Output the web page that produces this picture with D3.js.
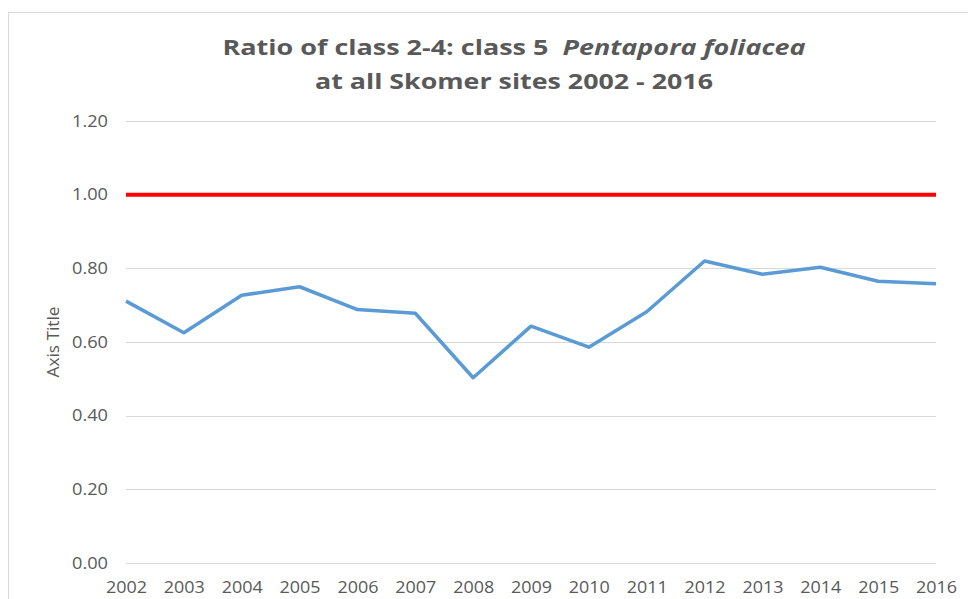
<!DOCTYPE html>
<html>
<head>
<meta charset="utf-8">
<script src="https://cdn.jsdelivr.net/npm/d3@7"></script>
<style>
  body { margin: 0; background: #fff; }
  svg { display: block; }
</style>
</head>
<body>
<div id="chart"></div>
<script>
const years = ["2002", "2003", "2004", "2005", "2006", "2007", "2008", "2009",
               "2010", "2011", "2012", "2013", "2014", "2015", "2016"];
const ratio = [0.711, 0.625, 0.727, 0.750, 0.688, 0.678, 0.503, 0.643,
               0.586, 0.682, 0.820, 0.784, 0.803, 0.765, 0.758];
const reference = [1, 1, 1, 1, 1, 1, 1, 1, 1, 1, 1, 1, 1, 1, 1];
const yTicks = [0, 0.2, 0.4, 0.6, 0.8, 1.0, 1.2];

const W = 968, H = 599;
const margin = {top: 121, right: 32, bottom: 36, left: 126};
const width = W - margin.left - margin.right;
const height = H - margin.top - margin.bottom;
const grey = "#595959";
const font = "'Open Sans', sans-serif";

const root = d3.select("#chart")
    .append("svg")
    .attr("width", W)
    .attr("height", H);

// chart frame
root.append("rect")
    .attr("x", 8.5)
    .attr("y", 12.5)
    .attr("width", W + 20)
    .attr("height", H)
    .attr("fill", "none")
    .attr("stroke", "#d9d9d9");

const svg = root.append("g")
    .attr("transform", `translate(${margin.left},${margin.top})`);

const x = d3.scalePoint().domain(years).range([0, width]);
const y = d3.scaleLinear().domain([0, 1.2]).range([height, 0]);

// gridlines
svg.append("g")
    .selectAll("line")
    .data(yTicks)
    .join("line")
    .attr("x1", 0)
    .attr("x2", width)
    .attr("y1", d => Math.round(y(d)) + 0.5)
    .attr("y2", d => Math.round(y(d)) + 0.5)
    .attr("stroke", "#d9d9d9")
    .attr("stroke-width", 1);

// y axis labels (the original is stretched sideways, so widths are fixed)
const yAxis = svg.append("g")
    .call(d3.axisLeft(y).tickValues(yTicks).tickFormat(d3.format(".2f")).tickSize(0).tickPadding(18));
yAxis.select(".domain").remove();
yAxis.selectAll("text")
    .attr("fill", grey)
    .attr("textLength", 36)
    .attr("lengthAdjust", "spacingAndGlyphs")
    .style("font-family", font)
    .style("font-size", "16.5px");

// x axis labels
const xAxis = svg.append("g")
    .attr("transform", `translate(0,${height})`)
    .call(d3.axisBottom(x).tickSize(0).tickPadding(18));
xAxis.select(".domain").remove();
xAxis.selectAll("text")
    .attr("fill", grey)
    .attr("textLength", 41)
    .attr("lengthAdjust", "spacingAndGlyphs")
    .style("font-family", font)
    .style("font-size", "17px");

const line = d3.line()
    .x((d, i) => x(years[i]))
    .y(d => y(d));

svg.append("path")
    .datum(reference)
    .attr("fill", "none")
    .attr("stroke", "#ff0000")
    .attr("stroke-width", 4)
    .attr("d", line);

svg.append("path")
    .datum(ratio)
    .attr("fill", "none")
    .attr("stroke", "#5b9bd5")
    .attr("stroke-width", 3.5)
    .attr("stroke-linejoin", "round")
    .attr("d", line);

// title
const title = root.append("text")
    .attr("x", 514)
    .attr("y", 55)
    .attr("text-anchor", "middle")
    .attr("fill", grey)
    .attr("textLength", 583)
    .attr("lengthAdjust", "spacingAndGlyphs")
    .style("font-family", font)
    .style("font-size", "21.5px")
    .style("font-weight", "bold");
title.append("tspan").text("Ratio of class 2-4: class 5\u00a0\u00a0");
title.append("tspan").style("font-style", "italic").text("Pentapora foliacea");

root.append("text")
    .attr("x", 514)
    .attr("y", 89)
    .attr("text-anchor", "middle")
    .attr("fill", grey)
    .attr("textLength", 398)
    .attr("lengthAdjust", "spacingAndGlyphs")
    .style("font-family", font)
    .style("font-size", "21.5px")
    .style("font-weight", "bold")
    .text("at all Skomer sites 2002 - 2016");

// y axis title
root.append("text")
    .attr("transform", `translate(59,${margin.top + height / 2}) rotate(-90)`)
    .attr("text-anchor", "middle")
    .attr("fill", grey)
    .attr("textLength", 71)
    .attr("lengthAdjust", "spacingAndGlyphs")
    .style("font-family", font)
    .style("font-size", "16px")
    .text("Axis Title");
</script>
</body>
</html>
